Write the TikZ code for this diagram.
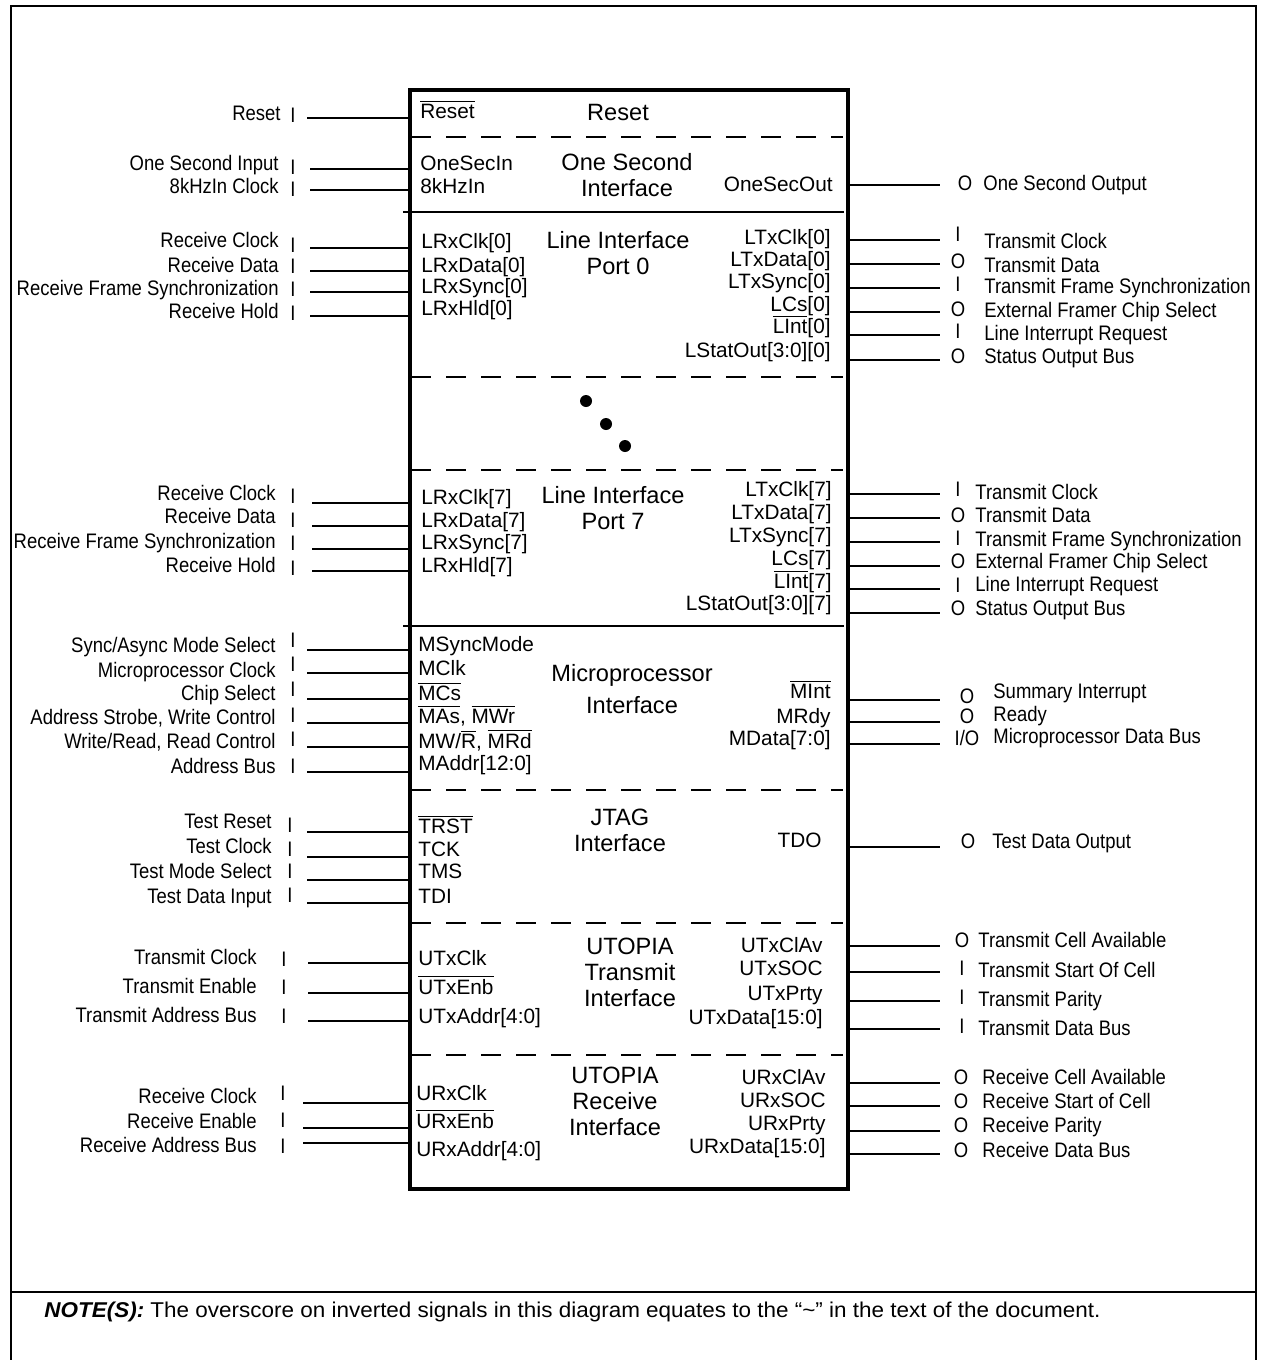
\documentclass[tikz,border=0pt]{standalone}
\usepackage{fontspec}
\setmainfont{Liberation Sans}
\newfontfamily\narrowfont[FakeStretch=0.88]{Liberation Sans}
\newfontfamily\notefamily[FakeStretch=1.05]{Liberation Sans}
\newcommand\sigfont{\fontsize{10.4}{12}\selectfont}
\newcommand\titlefont{\fontsize{11.8}{13}\selectfont}
\newcommand\extfont{\narrowfont\fontsize{10.5}{12}\selectfont}
\newcommand\notefont{\notefamily\fontsize{10.7}{12}\selectfont}
\newcommand\ovl[1]{\leavevmode\vbox{\hrule height 0.6pt\kern 0.9pt\hbox{#1}}}

\tikzset{
  wire/.style={line width=1pt},
  divider/.style={line width=1pt, dash pattern=on 10pt off 7.5pt},
  sigL/.style={font=\sigfont, inner sep=0pt, anchor=mid west},
  sigR/.style={font=\sigfont, inner sep=0pt, anchor=mid east},
  blocktitle/.style={font=\titlefont, inner sep=0pt, align=center},
  extL/.style={font=\extfont, inner sep=0pt, anchor=mid east},
  extR/.style={font=\extfont, inner sep=0pt, anchor=mid west},
  iotag/.style={font=\extfont, inner sep=0pt, anchor=mid},
}

\begin{document}
\begin{tikzpicture}[x=0.5pt,y=-0.5pt]
  \useasboundingbox (0,0) rectangle (1260,1360);
  % frame and note
  \draw[line width=1.3pt] (11,1360) -- (11,6) -- (1256,6) -- (1256,1360);
  \draw[line width=1.2pt] (11,1292) -- (1256,1292);
  \node[extR, font=\notefont] (note) at (44,1312) {\textbf{\textit{NOTE(S):}} The overscore on inverted signals in this diagram equates to the “\textasciitilde” in the text of the document.};

  % the chip
  \node[draw, line width=2pt, inner sep=0pt, minimum width=219pt, minimum height=549.5pt, anchor=north west] (chip) at (408,88) {};
  \foreach \y in {137,377,470,790,923,1055}
    \draw[divider] (411,\y) -- (843,\y);
  \draw[line width=0.8pt] (403,212) -- (844,212);
  \draw[line width=0.8pt] (403,626) -- (844,626);
  \fill (586,401) circle[radius=6] (606,424) circle[radius=6] (625,446) circle[radius=6];

  % block titles
  \node[blocktitle] (tReset) at (618,112) {Reset};
  \node[blocktitle] (tOneSec) at (627,175) {One Second\\Interface};
  \node[blocktitle] (tPort0) at (618,253) {Line Interface\\Port 0};
  \node[blocktitle] (tPort7) at (613,508) {Line Interface\\Port 7};
  \node[blocktitle] (tMicro) at (632,689) {Microprocessor\\[3pt]Interface};
  \node[blocktitle] (tJtag) at (620,830) {JTAG\\Interface};
  \node[blocktitle] (tUtx) at (630,972) {UTOPIA\\Transmit\\Interface};
  \node[blocktitle] (tUrx) at (615,1101) {UTOPIA\\Receive\\Interface};

  % signals inside, left
  \foreach \x/\y/\txt [count=\i] in {420/113/{\ovl{Reset}}, 420/165/OneSecIn, 420/188/8kHzIn,
      421/243/LRxClk[0], 421/267/LRxData[0], 421/288/LRxSync[0], 421/310/LRxHld[0],
      421/499/LRxClk[7], 421/522/LRxData[7], 421/544/LRxSync[7], 421/567/LRxHld[7],
      418/646/MSyncMode, 418/670/MClk, 418/695/{\ovl{MCs}}, 418/718/{\ovl{MAs}, \ovl{MWr}},
      418/743/{MW/\ovl{R}, \ovl{MRd}}, 418/765/MAddr[12:0],
      418/828/{\ovl{TRST}}, 418/851/TCK, 418/873/TMS, 418/898/TDI,
      418/960/UTxClk, 418/989/{\ovl{UTxEnb}}, 418/1018/UTxAddr[4:0],
      416/1095/URxClk, 416/1123/{\ovl{URxEnb}}, 416/1151/URxAddr[4:0]}
    \node[sigL] (sl\i) at (\x,\y) {\txt};

  % signals inside, right
  \foreach \x/\y/\txt [count=\i] in {833/186/OneSecOut,
      831/239/LTxClk[0], 831/261/LTxData[0], 831/283/LTxSync[0], 831/306/LCs[0],
      831/328/{\ovl{LInt}[0]}, 831/352/LStatOut[3:0][0],
      832/491/LTxClk[7], 832/514/LTxData[7], 832/537/LTxSync[7], 832/560/LCs[7],
      832/583/{\ovl{LInt}[7]}, 832/605/LStatOut[3:0][7],
      831/693/{\ovl{MInt}}, 831/718/MRdy, 831/740/MData[7:0],
      822/842/TDO,
      823/947/UTxClAv, 823/970/UTxSOC, 823/995/UTxPrty, 823/1019/UTxData[15:0],
      826/1079/URxClAv, 826/1102/URxSOC, 826/1125/URxPrty, 826/1148/URxData[15:0]}
    \node[sigR] (sr\i) at (\x,\y) {\txt};

  % pins on the left
  \foreach \xr/\xm/\xs/\yt/\ym/\yl/\txt [count=\i] in {
      281/293/307/115/117/118/Reset,
      279/293/310/165/169/169/{One Second Input}, 279/293/310/188/191/190/{8kHzIn Clock},
      279/293/310/242/247/248/{Receive Clock}, 279/293/310/267/268/271/{Receive Data},
      279/293/310/290/291/292/{Receive Frame Synchronization}, 279/293/310/313/315/316/{Receive Hold},
      276/293/312/495/498/503/{Receive Clock}, 276/293/312/518/522/526/{Receive Data},
      276/293/312/543/545/549/{Receive Frame Synchronization}, 276/293/312/567/570/571/{Receive Hold},
      276/293/307/647/642/650/{Sync/Async Mode Select}, 276/293/307/672/666/673/{Microprocessor Clock},
      276/293/307/695/691/699/{Chip Select}, 276/293/307/719/717/723/{Address Strobe, Write Control},
      276/293/307/743/741/747/{Write/Read, Read Control}, 276/293/307/768/768/772/{Address Bus},
      272/290/307/823/827/832/{Test Reset}, 272/290/307/848/851/857/{Test Clock},
      272/290/307/873/873/880/{Test Mode Select}, 272/290/307/898/897/903/{Test Data Input},
      257/284/308/959/961/963/{Transmit Clock}, 257/284/308/988/989/993/{Transmit Enable},
      257/284/308/1017/1018/1021/{Transmit Address Bus},
      257/283/303/1098/1095/1103/{Receive Clock}, 257/283/303/1123/1122/1128/{Receive Enable},
      257/283/303/1147/1148/1143/{Receive Address Bus}}{
    \node[extL] (ext\i) at (\xr,\yt) {\txt};
    \node[iotag] (tag\i) at (\xm,\ym) {I};
    \coordinate (w\i) at (\xs,\yl);
    \draw[wire] (w\i) -- (w\i -| chip.west);
  }

  % pins on the right
  \foreach \xm/\ym/\tg/\xt/\yt/\yl/\txt [count=\i] in {
      965/185/O/983/185/185/{One Second Output},
      958/236/I/984/243/240/{Transmit Clock}, 958/263/O/984/267/264/{Transmit Data},
      958/286/I/984/288/288/{Transmit Frame Synchronization}, 958/311/O/984/312/312/{External Framer Chip Select},
      958/333/I/984/335/335/{Line Interrupt Request}, 958/358/O/984/358/360/{Status Output Bus},
      958/491/I/975/494/494/{Transmit Clock}, 958/517/O/975/517/518/{Transmit Data},
      958/540/I/975/541/542/{Transmit Frame Synchronization}, 958/563/O/975/563/566/{External Framer Chip Select},
      958/587/I/975/586/589/{Line Interrupt Request}, 958/610/O/975/610/613/{Status Output Bus},
      967/698/O/993/693/700/{Summary Interrupt}, 967/718/O/993/716/722/Ready,
      967/740/{I/O}/993/738/744/{Microprocessor Data Bus},
      968/843/O/992/843/847/{Test Data Output},
      962/942/O/978/942/946/{Transmit Cell Available}, 962/970/I/978/972/972/{Transmit Start Of Cell},
      962/999/I/978/1001/1001/{Transmit Parity}, 962/1028/I/978/1030/1029/{Transmit Data Bus},
      961/1079/O/982/1079/1083/{Receive Cell Available}, 961/1103/O/982/1103/1106/{Receive Start of Cell},
      961/1127/O/982/1127/1131/{Receive Parity}, 961/1152/O/982/1152/1154/{Receive Data Bus}}{
    \node[iotag] (rtag\i) at (\xm,\ym) {\tg};
    \node[extR] (rext\i) at (\xt,\yt) {\txt};
    \coordinate (rw\i) at (940,\yl);
    \draw[wire] (rw\i -| chip.east) -- (rw\i);
  }
\end{tikzpicture}
\end{document}
